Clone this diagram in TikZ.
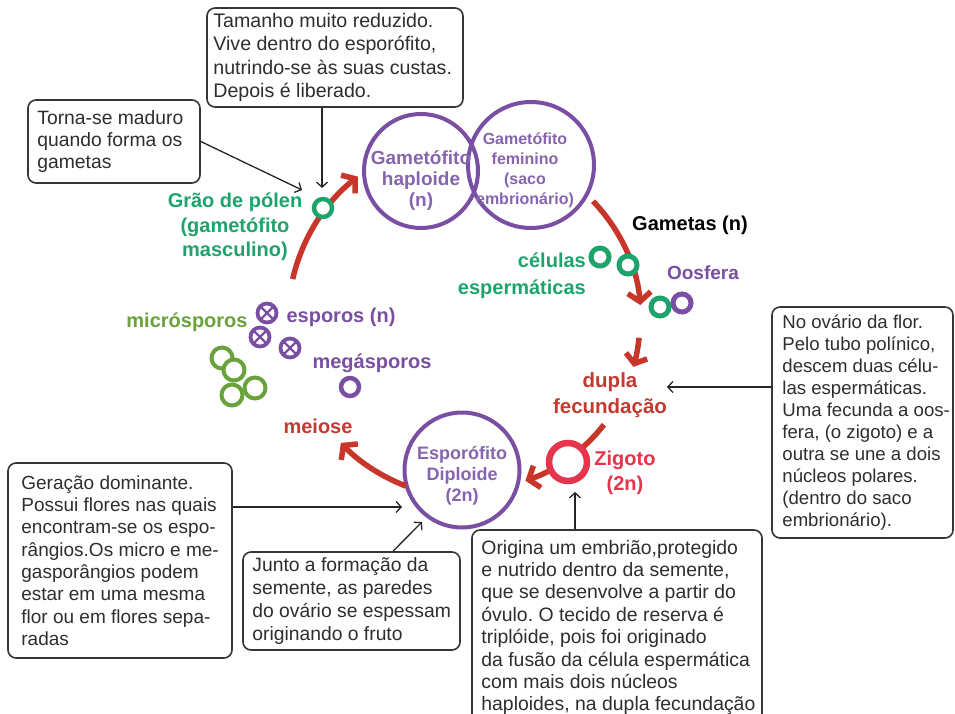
\documentclass[tikz,border=0pt]{standalone}
\usepackage{fontspec}
\setmainfont{Liberation Sans}
\usetikzlibrary{arrows.meta}
\frenchspacing

\definecolor{cyclered}{HTML}{C8352B}
\definecolor{labelred}{HTML}{C23A30}
\definecolor{zygred}{HTML}{E5344C}
\definecolor{phaseviolet}{HTML}{7A4FA3}
\definecolor{softviolet}{HTML}{8664AE}
\definecolor{pollengreen}{HTML}{1EA36C}
\definecolor{olivegreen}{HTML}{6AA23C}
\definecolor{boxline}{HTML}{363636}
\definecolor{boxtext}{HTML}{2E2E2E}

\begin{document}
\begin{tikzpicture}[x=1pt, y=-1pt,
  notebox/.style={draw=boxline, line width=1.6pt, rounded corners=8pt, fill=white, inner sep=0pt},
  notetext/.style={anchor=west, align=left, inner sep=0pt, text=boxtext},
  pointer/.style={draw=black!85, line width=1.3pt, -{Straight Barb[length=5pt,width=11pt]}},
  cyclearrow/.style={draw=cyclered, line width=5.5pt, -{Straight Barb[length=9pt,width=23pt]}},
  cyclelabel/.style={align=center, inner sep=0pt, font=\bfseries\fontsize{20}{24.5}\selectfont},
  phasecircle/.style={circle, draw=phaseviolet, line width=4pt, inner sep=0pt},
  ring/.style={circle, line width=4.5pt, inner sep=0pt, fill=white},
  crossspore/.style={circle, draw=phaseviolet, line width=3.8pt, minimum size=19pt, inner sep=0pt,
    path picture={\draw[phaseviolet, line width=2.4pt]
      (path picture bounding box.north west) -- (path picture bounding box.south east)
      (path picture bounding box.north east) -- (path picture bounding box.south west);}}
]
\clip (0,0) rectangle (955,714);
\fill[white] (0,0) rectangle (955,714);

% centre of the life cycle
\coordinate (cyc) at (470,320);

% ---------- main phases ----------
\node[phasecircle, minimum size=114pt] (haploid) at (421,171) {};
\node[phasecircle, minimum size=126pt] (female) at (531,165) {};
\node[phasecircle, minimum size=115pt] (sporophyte) at (462,470) {};

\node[cyclelabel, text=softviolet, font=\bfseries\fontsize{19}{21}\selectfont] (haploidtext) at (421,181)
  {Gametófito\\haploide\\(n)};
\node[cyclelabel, text=softviolet, font=\bfseries\fontsize{16}{20}\selectfont] (femaletext) at (525,170)
  {Gametófito\\feminino\\(saco\\embrionário)};
\node[cyclelabel, text=softviolet, font=\bfseries\fontsize{18}{21}\selectfont] (sporotext) at (462,476)
  {Esporófito\\Diploide\\(2n)};

% ---------- cycle arrows ----------
\draw[cyclearrow] ([shift={(193:182)}]cyc) arc[start angle=193, end angle=232, radius=182];
\draw[cyclearrow] ([shift={(-44:171)}]cyc) arc[start angle=-44, end angle=-5, radius=171];
\draw[cyclearrow, -{Straight Barb[length=8pt,width=22pt]}] ([shift={(6:170)}]cyc) arc[start angle=6, end angle=16, radius=170];
\draw[cyclearrow] ([shift={(38:170)}]cyc) arc[start angle=38, end angle=71, radius=170];
\draw[cyclearrow] ([shift={(111:178)}]cyc) arc[start angle=111, end angle=136, radius=181];

% ---------- cells ----------
\node[ring, draw=pollengreen, minimum size=18pt] (pollen) at (323,208) {};
\node[ring, draw=pollengreen, minimum size=18pt, line width=5pt] (sperm1) at (600,257) {};
\node[ring, draw=pollengreen, minimum size=18pt, line width=5pt] (sperm2) at (628,265) {};
\node[ring, draw=pollengreen, minimum size=18pt, line width=5pt] (sperm3) at (660,307) {};
\node[ring, draw=phaseviolet, minimum size=18pt, line width=5pt] (egg) at (682,303) {};
\node[ring, draw=zygred, minimum size=38pt, line width=6.5pt] (zygote) at (568,462) {};

\node[crossspore] (spore1) at (267,313) {};
\node[crossspore] (spore2) at (260,337) {};
\node[crossspore] (spore3) at (290,348) {};
\node[ring, draw=olivegreen, line width=4pt, minimum size=21pt] (micro1) at (222,358) {};
\node[ring, draw=olivegreen, line width=4pt, minimum size=21pt] (micro2) at (234,370) {};
\node[ring, draw=olivegreen, line width=4pt, minimum size=21pt] (micro3) at (232,395) {};
\node[ring, draw=olivegreen, line width=4pt, minimum size=21pt] (micro4) at (255,388) {};
\node[ring, draw=phaseviolet, minimum size=18pt] (mega) at (350,387) {};

% ---------- cycle labels ----------
\node[cyclelabel, text=pollengreen] (pollenlabel) at (235,227) {Grão de pólen\\(gametófito\\masculino)};
\node[cyclelabel, text=black] (gametes) at (690,225) {Gametas (n)};
\node[cyclelabel, text=phaseviolet, font=\bfseries\fontsize{19}{23}\selectfont] (egglabel) at (703,273) {Oosfera};
\node[cyclelabel, text=pollengreen, align=right, anchor=east, font=\bfseries\fontsize{20}{27}\selectfont] (spermlabel) at (586,276) {células\\espermáticas};
\node[cyclelabel, text=olivegreen] (microlabel) at (187,322) {micrósporos};
\node[cyclelabel, text=phaseviolet] (sporelabel) at (341,317) {esporos (n)};
\node[cyclelabel, text=phaseviolet] (megalabel) at (372,363) {megásporos};
\node[cyclelabel, text=labelred] (meiosis) at (318,426) {meiose};
\node[cyclelabel, text=labelred, font=\bfseries\fontsize{20.5}{26}\selectfont] (fertil) at (610,395) {dupla\\fecundação};
\node[cyclelabel, text=zygred] (zyglabel) at (625,473) {Zigoto\\(2n)};

% ---------- notes ----------
\node[notebox, minimum width=256pt, minimum height=99pt] (topnote) at (335,57.5) {};
\node[notetext, font=\fontsize{19.6}{23.5}\selectfont] at ([xshift=7pt]topnote.west)
  {Tamanho muito reduzido.\\Vive dentro do esporófito,\\nutrindo-se às suas custas.\\Depois é liberado.};

\node[notebox, minimum width=172pt, minimum height=83pt] (matnote) at (114,141.5) {};
\node[notetext, font=\fontsize{19.3}{22}\selectfont] at ([xshift=10pt]matnote.west)
  {Torna-se maduro\\quando forma os\\gametas};

\node[notebox, minimum width=181pt, minimum height=231pt] (fecnote) at (862.5,422.5) {};
\node[notetext, font=\fontsize{18.6}{22}\selectfont] at ([xshift=11pt]fecnote.west)
  {No ovário da flor.\\Pelo tubo polínico,\\descem duas célu-\\las espermáticas.\\Uma fecunda a oos-\\fera, (o zigoto) e a\\outra se une a dois\\núcleos polares.\\(dentro do saco\\embrionário).};

\node[notebox, minimum width=224pt, minimum height=195pt] (domnote) at (120,560.5) {};
\node[notetext, font=\fontsize{19}{22.3}\selectfont] at ([xshift=14pt]domnote.west)
  {Geração dominante.\\Possui flores nas quais\\encontram-se os espo-\\rângios.Os micro e me-\\gasporângios podem\\estar em uma mesma\\flor ou em flores sepa-\\radas};

\node[notebox, minimum width=217pt, minimum height=98pt] (fruitnote) at (351.5,601) {};
\node[notetext, font=\fontsize{19.3}{23.3}\selectfont] at ([xshift=10pt]fruitnote.west)
  {Junto a formação da\\semente, as paredes\\do ovário se espessam\\originando o fruto};

\node[notebox, minimum width=290pt, minimum height=195pt] (seednote) at (617,627.5) {};
\node[notetext, font=\fontsize{19.4}{22.4}\selectfont] at ([xshift=10pt]seednote.west)
  {Origina um embrião,protegido\\e nutrido dentro da semente,\\que se desenvolve a partir do\\óvulo. O tecido de reserva é\\triplóide, pois foi originado\\da fusão da célula espermática\\com mais dois núcleos\\haploides, na dupla fecundação};

% ---------- pointers from the notes ----------
\coordinate (pollentip) at (322,188);
\coordinate (matutip) at (302,190);
\coordinate (fectip) at (667,387);
\coordinate (domtip) at (402,507);
\coordinate (fruittip) at (422,522);
\coordinate (zygtip) at (575,492);

\draw[pointer] (pollentip |- topnote.south) -- (pollentip);
\draw[pointer] (matnote.east) -- (matutip);
\draw[pointer] (fectip -| fecnote.west) -- (fectip);
\draw[pointer] (domtip -| domnote.east) -- (domtip);
\draw[pointer] ([xshift=41.5pt]fruitnote.north) -- (fruittip);
\draw[pointer] (zygtip |- seednote.north) -- (zygtip);
\end{tikzpicture}
\end{document}
